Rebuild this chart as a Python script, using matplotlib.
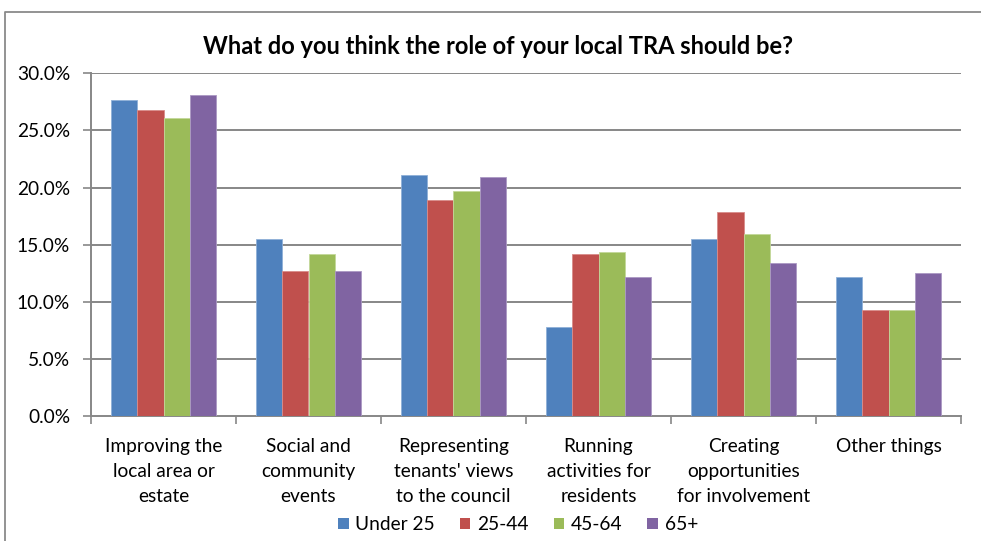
import matplotlib
matplotlib.use("Agg")
import matplotlib.pyplot as plt
from matplotlib.lines import Line2D
from matplotlib.patches import Patch
import numpy as np

plt.rcParams['font.family'] = ['Lato', 'DejaVu Sans']

categories = [
    "Improving the\nlocal area or\nestate",
    "Social and\ncommunity\nevents",
    "Representing\ntenants' views\nto the council",
    "Running\nactivities for\nresidents",
    "Creating\nopportunities\nfor involvement",
    "Other things",
]
series_names = ["Under 25", "25-44", "45-64", "65+"]
under_25 = [27.7, 15.5, 21.1, 7.8, 15.5, 12.2]
age_25_44 = [26.8, 12.7, 18.9, 14.2, 17.9, 9.3]
age_45_64 = [26.1, 14.2, 19.7, 14.4, 15.9, 9.3]
age_65_plus = [28.1, 12.7, 20.9, 12.2, 13.4, 12.5]
yticks = [0, 5, 10, 15, 20, 25, 30]

series = [under_25, age_25_44, age_45_64, age_65_plus]
colors = ["#4F81BD", "#C0504D", "#9BBB59", "#8064A2"]
edges = ["#8fb0d8", "#d88c8a", "#c3d89a", "#ab98c4"]

W, H = 981, 541
fig = plt.figure(figsize=(W / 100, H / 100), dpi=100)
ax = fig.add_axes([91 / W, 1 - 416 / H, (961 - 91) / W, (416 - 73.3) / H])

x = np.arange(len(categories))
bw = 0.18
for i, (vals, c, ec) in enumerate(zip(series, colors, edges)):
    ax.bar(x + (i - 1.5) * bw, vals, width=bw, color=c, edgecolor=ec,
           linewidth=0.6, zorder=3)

grid_c = "#878787"
ax.set_ylim(0, 30)
ax.set_xlim(-0.5, len(categories) - 0.5)
ax.set_yticks(yticks)
ax.set_yticklabels([f"{v:.1f}%" for v in yticks], fontsize=13.8)
for v in yticks[1:]:
    ax.axhline(v, color=grid_c, linewidth=1.4, zorder=1)

ax.set_xticks(x)
ax.set_xticklabels(categories, fontsize=13.8, linespacing=1.55)
ax.set_xticks(np.arange(-0.5, len(categories)), minor=True)
ax.tick_params(axis='x', which='major', length=0, pad=16)
ax.tick_params(axis='x', which='minor', length=6, width=1.2, color=grid_c, direction='out')
ax.tick_params(axis='y', length=6, width=1.2, color=grid_c, direction='out', pad=9)

for s in ["top", "right"]:
    ax.spines[s].set_visible(False)
for s in ["left", "bottom"]:
    ax.spines[s].set_color(grid_c)
    ax.spines[s].set_linewidth(1.4)

fig.text(498 / W, 1 - 46 / H, "What do you think the role of your local TRA should be?",
         ha="center", va="center", fontsize=17, fontweight="bold")

handles = [Patch(facecolor=c, edgecolor="none") for c in colors]
fig.legend(handles, series_names, loc="center", bbox_to_anchor=(518 / W, 1 - 525 / H),
           ncol=4, frameon=False, fontsize=13.8, handlelength=0.55, handleheight=0.55,
           handletextpad=0.35, columnspacing=1.3)

# chart frame
fig.add_artist(Line2D([4.5 / W, 4.5 / W, 1.0], [0.0, 1 - 11.5 / H, 1 - 11.5 / H],
                      transform=fig.transFigure, color="#8a8a8a", linewidth=1.3))

fig.savefig("out.png", dpi=100)
